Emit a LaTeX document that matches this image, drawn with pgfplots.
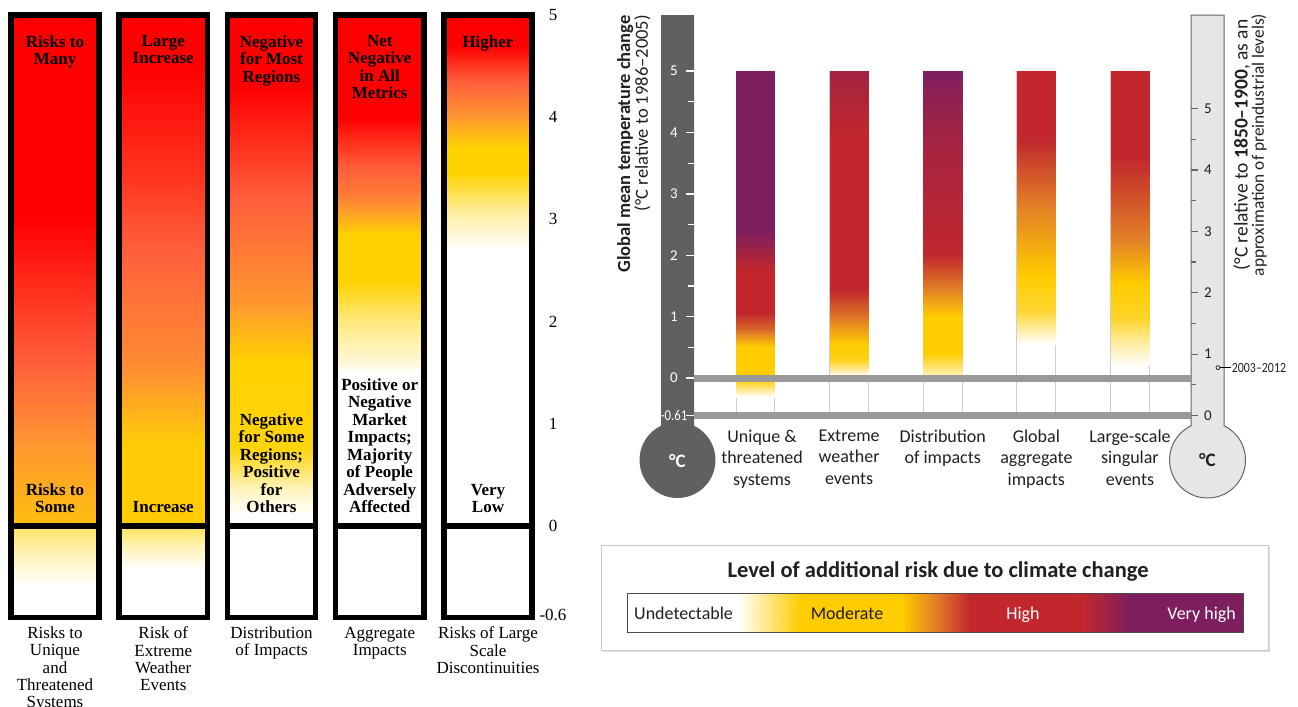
\documentclass[border=0pt]{standalone}
\usepackage{pgfplots}
\pgfplotsset{compat=1.18}
\usepackage{fontspec}
\usepackage{graphicx}
\newfontfamily\serif{Liberation Serif}
\newfontfamily\sans{Carlito}

\definecolor{thermodark}{RGB}{95,96,96}
\definecolor{thermolight}{RGB}{230,230,230}
\definecolor{thermoedge}{RGB}{100,100,100}
\definecolor{zeroline}{RGB}{153,153,153}
\definecolor{baredge}{RGB}{205,205,205}
\definecolor{txt}{RGB}{35,31,32}

\pgfplotsset{
  colormap={embersold}{rgb255(0cm)=(255,255,255) rgb255(2cm)=(255,210,0) rgb255(3cm)=(255,150,48) rgb255(4cm)=(255,95,60) rgb255(5cm)=(255,0,0)},
  colormap={embersnew}{rgb255(0cm)=(255,255,255) rgb255(2cm)=(255,204,0) rgb255(3cm)=(226,128,38) rgb255(4cm)=(193,39,45) rgb255(6cm)=(125,31,94)},
  ember/.style={surf, shader=interp, point meta=explicit, mesh/cols=2},
}

\newcommand\oldbold{\serif\bfseries\fontsize{17bp}{17.5bp}\selectfont}
\newcommand\oldreg{\serif\fontsize{17bp}{17.3bp}\selectfont}
\newcommand\newlbl{\sans\fontsize{18bp}{21.5bp}\selectfont}

\begin{document}
\begin{tikzpicture}

% thermometer on the left (1986-2005 baseline)
\fill[thermodark] (661bp,-15bp) -- (694bp,-15bp) -- (694bp,-425.77bp)
  arc[start angle=64.3, end angle=-244.3, radius=38bp] -- cycle;
% thermometer on the right (1850-1900 baseline)
\filldraw[fill=thermolight, draw=thermoedge, line width=1bp] (1191bp,-15bp) -- (1224bp,-15bp) -- (1224bp,-425.77bp)
  arc[start angle=64.3, end angle=-244.3, radius=38bp] -- cycle;
\node[font=\sans\bfseries\fontsize{19bp}{19bp}\selectfont, text=white] at (677.5bp,-461bp) {°C};
\node[font=\sans\bfseries\fontsize{19bp}{19bp}\selectfont, text=txt] at (1207.5bp,-460bp) {°C};

% axis titles of the thermometers
\node[rotate=90, anchor=north east, align=right, inner sep=0, text=txt] at (617bp,-15bp)
  {{\sans\bfseries\fontsize{18.5bp}{20bp}\selectfont Global mean temperature change}\\
   {\sans\fontsize{18.5bp}{20bp}\selectfont (°C relative to 1986–2005)}};
\node[rotate=90, anchor=center, align=center, inner sep=0, text=txt] at (1250bp,-145bp)
  {{\sans\fontsize{19.5bp}{20bp}\selectfont (°C relative to \textbf{1850–1900}, as an}\\
   {\sans\fontsize{17.3bp}{20bp}\selectfont approximation of preindustrial levels)}};

% legend frame
\fill[black!13] (603bp,-547bp) rectangle (1270bp,-652bp);
\filldraw[fill=white, draw=black!22, line width=0.8bp] (601bp,-545bp) rectangle (1268bp,-650bp);

%================ left panel: reasons for concern ================
\begin{axis}[
  at={(0bp,-618bp)}, anchor=south west, scale only axis,
  width=540bp, height=613.2bp,
  xmin=0.4919, xmax=5.4804, ymin=-0.9, ymax=5.1,
  axis x line=none, axis y line*=right, y axis line style={draw=none},
  ytick={-0.87,0,1,2,3,4,5}, yticklabels={-0.6,0,1,2,3,4,5},
  major tick length=0pt,
  yticklabel style={font=\oldreg, anchor=center, xshift=13bp},
  colormap name=embersold, point meta min=0, point meta max=5,
  clip=false,
]
% unique and threatened systems
\addplot[ember] coordinates {
 (0.5914,5) [5] (1.4086,5) [5]
 (0.5914,3.0) [5] (1.4086,3.0) [5]
 (0.5914,1.6) [4] (1.4086,1.6) [4]
 (0.5914,0.8) [3] (1.4086,0.8) [3]
 (0.5914,0) [2.3] (1.4086,0) [2.3]};
\addplot[ember] coordinates {
 (0.5914,0) [1.2] (1.4086,0) [1.2]
 (0.5914,-0.3) [0.5] (1.4086,-0.3) [0.5]
 (0.5914,-0.6) [0] (1.4086,-0.6) [0]};
% extreme weather events
\addplot[ember] coordinates {
 (1.5914,5) [5] (2.4086,5) [5]
 (1.5914,4.5) [5] (2.4086,4.5) [5]
 (1.5914,3.5) [4.5] (2.4086,3.5) [4.5]
 (1.5914,2.7) [4] (2.4086,2.7) [4]
 (1.5914,1.6) [3.2] (2.4086,1.6) [3.2]
 (1.5914,0.8) [2.1] (2.4086,0.8) [2.1]
 (1.5914,0) [2.1] (2.4086,0) [2.1]};
\addplot[ember] coordinates {
 (1.5914,0) [1.3] (2.4086,0) [1.3]
 (1.5914,-0.2) [0.6] (2.4086,-0.2) [0.6]
 (1.5914,-0.42) [0] (2.4086,-0.42) [0]};
% distribution of impacts
\addplot[ember] coordinates {
 (2.5914,5) [5] (3.4086,5) [5]
 (2.5914,4.3) [5] (3.4086,4.3) [5]
 (2.5914,3.2) [4] (3.4086,3.2) [4]
 (2.5914,2.2) [3] (3.4086,2.2) [3]
 (2.5914,1.6) [2] (3.4086,1.6) [2]
 (2.5914,0.75) [1.9] (3.4086,0.75) [1.9]
 (2.5914,0.35) [0.5] (3.4086,0.35) [0.5]
 (2.5914,0.1) [0] (3.4086,0.1) [0]};
% aggregate impacts
\addplot[ember] coordinates {
 (3.5914,5) [5] (4.4086,5) [5]
 (3.5914,4.0) [5] (4.4086,4.0) [5]
 (3.5914,3.25) [3.5] (4.4086,3.25) [3.5]
 (3.5914,2.85) [2] (4.4086,2.85) [2]
 (3.5914,2.4) [2] (4.4086,2.4) [2]
 (3.5914,2.0) [1.0] (4.4086,2.0) [1.0]
 (3.5914,1.6) [0.3] (4.4086,1.6) [0.3]
 (3.5914,1.5) [0] (4.4086,1.5) [0]};
% large scale discontinuities
\addplot[ember] coordinates {
 (4.5914,5) [5] (5.4086,5) [5]
 (4.5914,4.7) [5] (5.4086,4.7) [5]
 (4.5914,4.07) [3.2] (5.4086,4.07) [3.2]
 (4.5914,3.7) [2] (5.4086,3.7) [2]
 (4.5914,3.45) [2] (5.4086,3.45) [2]
 (4.5914,3.05) [0.7] (5.4086,3.05) [0.7]
 (4.5914,2.7) [0] (5.4086,2.7) [0]};

% frames of the five columns
\pgfplotsinvokeforeach{1,...,5}{
  \draw[line width=5.5bp] (axis cs:#1-0.4086,-0.895) rectangle (axis cs:#1+0.4086,5);
  \draw[line width=5.5bp] (axis cs:#1-0.4086,0) -- (axis cs:#1+0.4086,0);
}

% statements at the top of each column
\begin{scope}[every node/.style={anchor=north, align=center, inner sep=0, font=\oldbold}]
\node at (axis cs:1,4.804) {Risks to\\Many};
\node at (axis cs:2,4.804) {Large\\Increase};
\node at (axis cs:3,4.804) {Negative\\for Most\\Regions};
\node at (axis cs:4,4.804) {Net\\Negative\\in All\\Metrics};
\node at (axis cs:5,4.804) {Higher};
\end{scope}
% statements at the low end of each column
\begin{scope}[every node/.style={anchor=south, align=center, inner sep=0, font=\oldbold}]
\node at (axis cs:1,0.127) {Risks to\\Some};
\node at (axis cs:2,0.127) {Increase};
\node at (axis cs:3,0.127) {Negative\\for Some\\Regions;\\Positive\\for\\Others};
\node at (axis cs:4,0.127) {Positive or\\Negative\\Market\\Impacts;\\Majority\\of People\\Adversely\\Affected};
\node at (axis cs:5,0.127) {Very\\Low};
\end{scope}
% column names
\begin{scope}[every node/.style={anchor=north, align=center, inner sep=0, font=\oldreg}]
\node at (axis cs:1,-0.985) {Risks to\\Unique\\and\\Threatened\\Systems};
\node at (axis cs:2,-0.985) {Risk of\\Extreme\\Weather\\Events};
\node at (axis cs:3,-0.985) {Distribution\\of Impacts};
\node at (axis cs:4,-0.985) {Aggregate\\Impacts};
\node at (axis cs:5,-0.985) {Risks of Large\\Scale\\Discontinuities};
\end{scope}
\end{axis}

%================ right panel: embers against the 1986-2005 scale ================
\begin{axis}[
  at={(694bp,-415.5bp)}, anchor=south west, scale only axis,
  width=497bp, height=400.5bp,
  xmin=0.343, xmax=5.652, ymin=-0.61, ymax=5.913,
  axis x line*=bottom, axis y line*=left, axis line style={draw=none},
  xtick={1.07,2,3,4,5},
  xticklabels={{Unique \&\\threatened\\systems},{Extreme\\weather\\events},{Distribution\\of impacts},{Global\\aggregate\\impacts},{Large-scale\\singular\\events}},
  x tick style={draw=none},
  xticklabel style={font=\newlbl, align=center, inner sep=0, yshift=-6bp, text=txt},
  ytick={-0.61,0,1,2,3,4,5}, yticklabels={{\scalebox{0.85}[1]{-0.61}},0,1,2,3,4,5},
  minor ytick={0.5,1.5,2.5,3.5,4.5},
  tick align=outside, major tick length=8bp, minor tick length=6bp,
  y tick style={white, line width=1.3bp},
  yticklabel style={font=\sans\fontsize{15bp}{15bp}\selectfont, text=white, anchor=center, xshift=-12bp},
  colormap name=embersnew, point meta min=0, point meta max=6,
  clip=false,
]
% light outlines of the columns
\pgfplotsinvokeforeach{1,...,5}{
  \draw[baredge, line width=1bp] (axis cs:#1-0.208,-0.61) rectangle (axis cs:#1+0.208,5);
}
% unique & threatened systems
\addplot[ember] coordinates {
 (0.792,5) [6] (1.208,5) [6]
 (0.792,2.4) [6] (1.208,2.4) [6]
 (0.792,1.76) [4] (1.208,1.76) [4]
 (0.792,1.06) [4] (1.208,1.06) [4]
 (0.792,0.8) [3.3] (1.208,0.8) [3.3]
 (0.792,0.5) [2] (1.208,0.5) [2]
 (0.792,0) [2] (1.208,0) [2]
 (0.792,-0.1) [1.5] (1.208,-0.1) [1.5]
 (0.792,-0.31) [0] (1.208,-0.31) [0]};
% extreme weather events
\addplot[ember] coordinates {
 (1.792,5) [4.9] (2.208,5) [4.9]
 (1.792,4.0) [4] (2.208,4.0) [4]
 (1.792,1.43) [4] (2.208,1.43) [4]
 (1.792,0.94) [3] (2.208,0.94) [3]
 (1.792,0.55) [2] (2.208,0.55) [2]
 (1.792,0.3) [1.8] (2.208,0.3) [1.8]
 (1.792,0.05) [0.2] (2.208,0.05) [0.2]
 (1.792,0) [0] (2.208,0) [0]};
% distribution of impacts
\addplot[ember] coordinates {
 (2.792,5) [6] (3.208,5) [6]
 (2.792,4.6) [5.5] (3.208,4.6) [5.5]
 (2.792,3.8) [4.8] (3.208,3.8) [4.8]
 (2.792,2.0) [4] (3.208,2.0) [4]
 (2.792,1.45) [3] (3.208,1.45) [3]
 (2.792,1.0) [2] (3.208,1.0) [2]
 (2.792,0.4) [2] (3.208,0.4) [2]
 (2.792,0.1) [0.8] (3.208,0.1) [0.8]
 (2.792,0) [0.5] (3.208,0) [0.5]};
% global aggregate impacts
\addplot[ember] coordinates {
 (3.792,5) [4] (4.208,5) [4]
 (3.792,3.9) [4] (4.208,3.9) [4]
 (3.792,2.8) [3] (4.208,2.8) [3]
 (3.792,1.64) [2] (4.208,1.64) [2]
 (3.792,1.1) [1.6] (4.208,1.1) [1.6]
 (3.792,0.55) [0] (4.208,0.55) [0]};
% large-scale singular events
\addplot[ember] coordinates {
 (4.792,5) [4] (5.208,5) [4]
 (4.792,3.6) [4] (5.208,3.6) [4]
 (4.792,2.25) [3] (5.208,2.25) [3]
 (4.792,1.55) [2] (5.208,1.55) [2]
 (4.792,1.0) [1.7] (5.208,1.0) [1.7]
 (4.792,0.6) [0.8] (5.208,0.6) [0.8]
 (4.792,0.2) [0] (5.208,0.2) [0]};
% reference levels: 1986-2005 and 1850-1900
\addplot[zeroline, line width=7bp] coordinates {(0.343,0) (5.652,0)};
\addplot[zeroline, line width=7bp] coordinates {(0.343,-0.61) (5.652,-0.61)};
\end{axis}

%================ right panel: scale relative to 1850-1900 ================
\begin{axis}[
  at={(694bp,-415.5bp)}, anchor=south west, scale only axis,
  width=497bp, height=400.5bp,
  xmin=0.343, xmax=5.652, ymin=0, ymax=6.523,
  axis x line=none, axis y line*=right, axis line style={draw=none},
  ytick={0,1,2,3,4,5}, yticklabels={0,1,2,3,4,5},
  minor ytick={0.5,1.5,2.5,3.5,4.5},
  tick align=outside, major tick length=7bp, minor tick length=5bp,
  y tick style={thermoedge, line width=1.2bp},
  yticklabel style={font=\sans\fontsize{15bp}{15bp}\selectfont, text=txt, anchor=center, xshift=10bp},
  clip=false,
]
% observed warming of 2003-2012
\draw[black, line width=0.8bp] ([xshift=2bp]axis cs:5.94,0.78) -- ([xshift=13bp]axis cs:5.94,0.78)
  node[anchor=west, inner sep=0.5bp, font=\sans\fontsize{14bp}{14bp}\selectfont, text=txt] {\scalebox{0.85}[1]{2003–2012}};
\addplot[black, mark=o, mark size=2bp, mark options={fill=white, line width=0.6bp}] coordinates {(5.94,0.78)};
\end{axis}

%================ legend: level of additional risk ================
\begin{axis}[
  at={(627bp,-632bp)}, anchor=south west, scale only axis,
  width=616bp, height=39bp,
  xmin=0, xmax=616, ymin=0, ymax=1, xtick=\empty, ytick=\empty,
  axis line style={draw=black!70, line width=0.8bp}, axis on top,
  colormap name=embersnew, point meta min=0, point meta max=6,
  clip=false,
]
\addplot[surf, shader=interp, point meta=explicit, mesh/cols=9] coordinates {
 (0,0) [0] (111,0) [0] (173,0) [2] (275,0) [2] (308,0) [3] (343,0) [4] (456,0) [4] (503,0) [6] (616,0) [6]
 (0,1) [0] (111,1) [0] (173,1) [2] (275,1) [2] (308,1) [3] (343,1) [4] (456,1) [4] (503,1) [6] (616,1) [6]};
\node[anchor=base, font=\sans\bfseries\fontsize{22.5bp}{22.5bp}\selectfont, text=txt] at (axis cs:311,1.41) {Level of additional risk due to climate change};
\node[anchor=base west, inner sep=0, font=\newlbl, text=txt] at (axis cs:7,0.31) {Undetectable};
\node[anchor=base, inner sep=0, font=\newlbl, text=txt] at (axis cs:220,0.31) {Moderate};
\node[anchor=base, inner sep=0, font=\newlbl, text=white] at (axis cs:396,0.31) {High};
\node[anchor=base east, inner sep=0, font=\newlbl, text=white] at (axis cs:609,0.31) {Very high};
\end{axis}

% page size of the figure
\pgfresetboundingbox
\path[use as bounding box] (0bp,0bp) rectangle (1298bp,-707bp);
\end{tikzpicture}
\end{document}
